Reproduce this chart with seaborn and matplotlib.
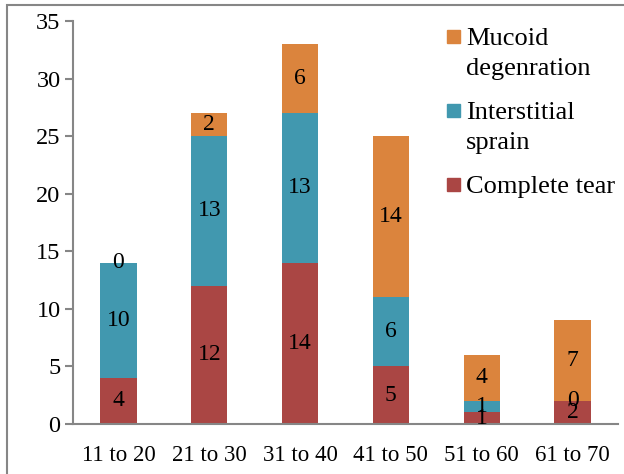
import numpy as np
import pandas as pd
import matplotlib
matplotlib.use("Agg")
import matplotlib.pyplot as plt
from matplotlib.patches import Rectangle
import seaborn as sns

# chart data
age_groups = ["11 to 20", "21 to 30", "31 to 40", "41 to 50", "51 to 60", "61 to 70"]
complete_tear = [4, 12, 14, 5, 1, 2]
interstitial_sprain = [10, 13, 13, 6, 1, 0]
mucoid_degen = [0, 2, 6, 14, 4, 7]
y_ticks = [0, 5, 10, 15, 20, 25, 30, 35]

series_names = ["Complete tear", "Interstitial\nsprain", "Mucoid\ndegenration"]
series_vals = [complete_tear, interstitial_sprain, mucoid_degen]
colors = ["#AA4644", "#4198AF", "#DB843D"]

sns.set_theme(style="white")
plt.rcParams["font.family"] = ["Liberation Serif", "DejaVu Serif"]

W, H = 624, 474
fig = plt.figure(figsize=(W / 100, H / 100), dpi=100)
ax = fig.add_axes([73 / W, 1 - 424 / H, (618 - 73) / W, (424 - 21) / H])

# cumulative sums so the stacks can be layered tallest first
df = pd.DataFrame({"group": age_groups})
bottoms = np.zeros(len(age_groups))
tops = []
for vals in series_vals:
    tops.append(bottoms + np.array(vals))
    bottoms = bottoms + np.array(vals)

for i in reversed(range(len(series_vals))):
    df["top"] = tops[i]
    sns.barplot(data=df, x="group", y="top", color=colors[i], width=0.4,
                saturation=1, linewidth=0, ax=ax, zorder=2)

# segment labels in the middle of each piece
for i, vals in enumerate(series_vals):
    base = tops[i] - np.array(vals)
    for j, v in enumerate(vals):
        ax.text(j, base[j] + v / 2, str(v), ha="center", va="center",
                fontsize=17, color="black", zorder=3)

ax.set_ylim(0, 35)
ax.set_xlim(-0.5, len(age_groups) - 0.5)
ax.set_yticks(y_ticks)
ax.set_xlabel("")
ax.set_ylabel("")
ax.set_xticks(np.arange(-0.5, len(age_groups), 1), minor=True)
ax.tick_params(axis="x", which="major", length=0, labelsize=16.5, pad=15, colors="black")
ax.tick_params(axis="x", which="minor", length=6, width=1.5, color="#868686", direction="out")
ax.tick_params(axis="y", length=6, width=1.5, color="#868686", direction="out",
               labelsize=17.5, pad=3, labelcolor="black")
ax.tick_params(axis="both", bottom=True, left=True)
for s in ["top", "right"]:
    ax.spines[s].set_visible(False)
for s in ["left", "bottom"]:
    ax.spines[s].set_color("#868686")
    ax.spines[s].set_linewidth(1.5)

# legend drawn by hand so the swatch sits on the first line of each label
first_baselines = [45, 119, 193]   # pixel rows, top to bottom
line_gap = 30
for k, i in enumerate(reversed(range(len(series_names)))):
    y0 = first_baselines[k]
    fig.patches.append(Rectangle((447 / W, 1 - (y0 - 2) / H), 13 / W, 13 / H,
                                 transform=fig.transFigure, color=colors[i]))
    for n, line in enumerate(series_names[i].split("\n")):
        fig.text(466 / W, 1 - (y0 + n * line_gap) / H, line, fontsize=19,
                 ha="left", va="baseline", color="black")

# outer frame of the chart area
fig.patches.append(Rectangle((7 / W, -0.1), 1.2, 1.1 - 5 / H, transform=fig.transFigure,
                             fill=False, edgecolor="#868686", linewidth=1.5))

fig.savefig("out.png", dpi=100)
